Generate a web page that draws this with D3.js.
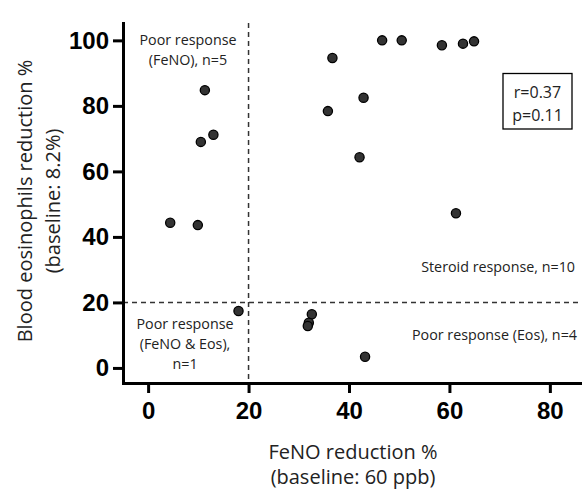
<!DOCTYPE html>
<html>
<head>
<meta charset="utf-8">
<script src="https://cdn.jsdelivr.net/npm/d3@7"></script>
<style>
  body { margin: 0; background: #fff; }
  .axis text { font-family: "Liberation Sans", Arial, sans-serif; font-weight: bold; font-size: 24px; fill: #000; }
  .lbl { font-family: "Open Sans", sans-serif; fill: #222; }
</style>
</head>
<body>
<div id="chart-area"></div>
<script>
// FeNO reduction % vs blood eosinophils reduction %
const fenoReduction = [11.3, 13.0, 10.5, 4.4, 9.9, 36.7, 35.8, 46.6, 50.5, 58.5, 62.7, 64.9, 42.9, 42.1, 61.3, 32.6, 32.0, 31.8, 43.2, 18.0]
const eosReduction  = [84.8, 71.2, 69.0, 44.3, 43.6, 94.6, 78.4, 100, 100, 98.5, 99.0, 99.7, 82.5, 64.3, 47.2, 16.4, 13.8, 12.8, 3.4, 17.4]
const xTicks = [0, 20, 40, 60, 80]
const yTicks = [0, 20, 40, 60, 80, 100]
const cutoffX = 20
const cutoffY = 20

const W = 582, H = 493
const margin = {top: 23, right: 2, bottom: 110, left: 123}

const svg = d3.select('#chart-area')
  .append('svg')
    .attr('width', W)
    .attr('height', H)

const x = d3.scaleLinear().domain([-5, 86]).range([margin.left, W - margin.right])
const y = d3.scaleLinear().domain([-4.6, 105.3]).range([H - margin.bottom, margin.top])

// cutoff lines
svg.append('line')
  .attr('x1', x(cutoffX)).attr('x2', x(cutoffX))
  .attr('y1', margin.top).attr('y2', H - margin.bottom)
  .attr('stroke', '#333').attr('stroke-width', 1.5).attr('stroke-dasharray', '5,4')

svg.append('line')
  .attr('x1', margin.left).attr('x2', W)
  .attr('y1', y(cutoffY)).attr('y2', y(cutoffY))
  .attr('stroke', '#333').attr('stroke-width', 1.5).attr('stroke-dasharray', '5,4')

// axes
const xAxis = svg.append('g')
  .attr('class', 'axis')
  .attr('transform', `translate(0,${H - margin.bottom})`)
  .call(d3.axisBottom(x).tickValues(xTicks).tickSize(10).tickSizeOuter(0).tickPadding(9))

const yAxis = svg.append('g')
  .attr('class', 'axis')
  .attr('transform', `translate(${margin.left},0)`)
  .call(d3.axisLeft(y).tickValues(yTicks).tickSize(10).tickSizeOuter(0).tickPadding(4))

svg.selectAll('.axis path, .axis line')
  .attr('stroke', '#000').attr('stroke-width', 3)
svg.selectAll('.axis .domain').attr('stroke-linecap', 'square')

// points
const pts = fenoReduction.map((v, i) => ({fx: v, ey: eosReduction[i]}))
svg.append('g').selectAll('circle')
  .data(pts)
  .enter()
  .append('circle')
    .attr('cx', d => x(d.fx))
    .attr('cy', d => y(d.ey))
    .attr('r', 4.6)
    .attr('fill', '#333')
    .attr('stroke', '#000')
    .attr('stroke-width', 1.3)

// axis titles
const xTitle = svg.append('text')
  .attr('class', 'lbl')
  .attr('text-anchor', 'middle')
  .attr('font-size', '20px')
xTitle.append('tspan').attr('x', 353).attr('y', 459).text('FeNO reduction %')
xTitle.append('tspan').attr('x', 353).attr('y', 484).text('(baseline: 60 ppb)')

const yTitle = svg.append('text')
  .attr('class', 'lbl')
  .attr('text-anchor', 'middle')
  .attr('font-size', '20px')
  .attr('transform', 'rotate(-90)')
yTitle.append('tspan').attr('x', -201).attr('y', 32).text('Blood eosinophils reduction %')
yTitle.append('tspan').attr('x', -201).attr('y', 60).text('(baseline: 8.2%)')

// quadrant notes
function note(lines, px, py, anchor) {
  const t = svg.append('text')
    .attr('class', 'lbl')
    .attr('font-size', '14.3px')
    .attr('text-anchor', anchor)
  lines.forEach((s, i) => {
    t.append('tspan').attr('x', px).attr('y', py + i * 20).text(s)
  })
}
note(['Poor response', '(FeNO), n=5'], 188, 45, 'middle')
note(['Steroid response, n=10'], 575, 272, 'end')
note(['Poor response (Eos), n=4'], 577, 340, 'end')
note(['Poor response', '(FeNO & Eos),', 'n=1'], 185, 329, 'middle')

// correlation box
svg.append('rect')
  .attr('x', 503).attr('y', 73.5)
  .attr('width', 69).attr('height', 55.5)
  .attr('fill', '#fff').attr('stroke', '#000').attr('stroke-width', 1.3)
const stat = svg.append('text')
  .attr('class', 'lbl')
  .attr('font-size', '16px')
  .attr('text-anchor', 'middle')
stat.append('tspan').attr('x', 537.5).attr('y', 98).text('r=0.37')
stat.append('tspan').attr('x', 537.5).attr('y', 121).text('p=0.11')
</script>
</body>
</html>
